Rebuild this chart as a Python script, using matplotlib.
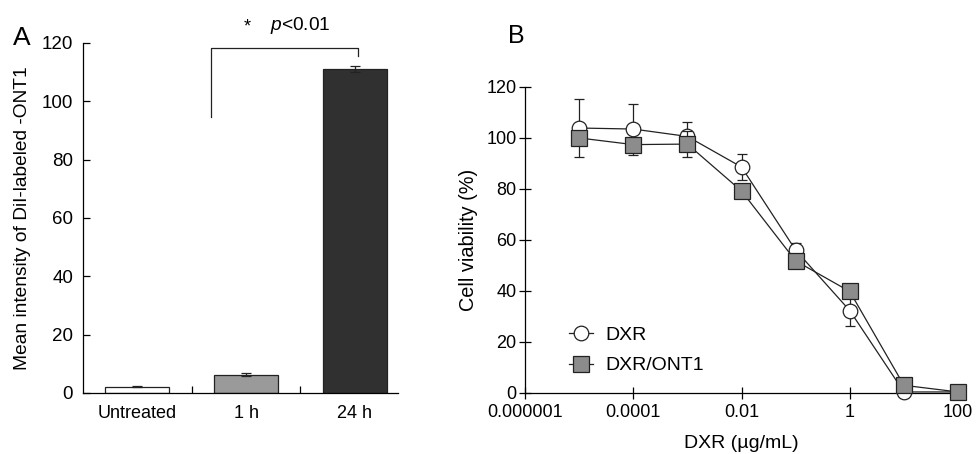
import numpy as np
import matplotlib
matplotlib.use("Agg")
import matplotlib.pyplot as plt
from matplotlib.lines import Line2D

plt.rcParams["font.family"] = ["Liberation Sans", "DejaVu Sans"]
plt.rcParams["mathtext.fontset"] = "custom"
plt.rcParams["mathtext.rm"] = "Liberation Sans"
plt.rcParams["mathtext.it"] = "Liberation Sans:italic"

# panel A data
groups = ["Untreated", "1 h", "24 h"]
intensity = [2.2, 6.3, 111.0]
intensity_err = [0.3, 0.5, 1.1]
bar_colors = ["white", "#9a9a9a", "#303030"]

# panel B data
dose = [1e-5, 1e-4, 1e-3, 1e-2, 1e-1, 1, 10, 100]
dxr = [103.8, 103.4, 100.5, 88.5, 55.9, 32.2, 0.3, 0.3]
dxr_err = [11.5, 10.0, 5.7, 5.0, 3.0, 6.0, 0.3, 0.3]
dxr_ont1 = [99.9, 97.3, 97.5, 79.1, 51.7, 39.7, 2.9, 0.3]
dxr_ont1_err = [2.0, 2.0, 5.0, 2.0, 2.0, 2.0, 0.3, 0.3]

fs = 13
ink = "#222222"
fig = plt.figure(figsize=(9.76, 4.54), dpi=100)

# ---- panel A ----
axA = fig.add_axes([0.085, 0.1344, 0.323, 0.7709])
x = np.arange(len(groups))
axA.bar(x, intensity, width=0.59, color=bar_colors, edgecolor=ink, linewidth=0.9,
        yerr=intensity_err, error_kw=dict(ecolor=ink, elinewidth=0.9, capsize=3.5, capthick=0.9))
axA.set_xlim(-0.5, 2.4)
axA.set_ylim(0, 120)
axA.set_yticks(range(0, 121, 20))
axA.set_xticks(x)
axA.set_xticklabels(groups)
axA.set_xticks([0.5, 1.5], minor=True)
axA.tick_params(axis="x", which="major", length=0, pad=9, labelsize=fs)
axA.tick_params(axis="x", which="minor", direction="in", length=5, width=0.9)
axA.tick_params(axis="y", direction="in", length=5, width=0.9, labelsize=13.5, pad=7)
for s in ["top", "right"]:
    axA.spines[s].set_visible(False)
for s in ["left", "bottom"]:
    axA.spines[s].set_linewidth(0.9)
axA.set_ylabel("Mean intensity of DiI-labeled -ONT1", fontsize=13.8, labelpad=8)

# significance bracket
axA.plot([0.68, 0.68, 2.03, 2.03], [94.6, 118.3, 118.3, 115.5], color=ink,
         linewidth=0.9, clip_on=False)
axA.text(1.01, 125.5, "*", fontsize=fs, ha="center", va="center", clip_on=False)
axA.text(1.5, 126, "$p$<0.01", fontsize=13.8, ha="center", va="center", clip_on=False)
fig.text(0.013, 0.917, "A", fontsize=19, va="center")

# ---- panel B ----
axB = fig.add_axes([0.5379, 0.135, 0.4437, 0.674])
axB.errorbar(dose, dxr, yerr=dxr_err, color=ink, linewidth=0.9, marker="o",
             markersize=10.5, markerfacecolor="white", markeredgecolor=ink,
             markeredgewidth=0.9, capsize=3.5, elinewidth=0.9, capthick=0.9,
             zorder=3, clip_on=False)
axB.errorbar(dose, dxr_ont1, yerr=dxr_ont1_err, color=ink, linewidth=0.9, marker="s",
             markersize=11, markerfacecolor="#8c8c8c", markeredgecolor=ink,
             markeredgewidth=0.9, capsize=3.5, elinewidth=0.9, capthick=0.9,
             zorder=4, clip_on=False)
axB.set_xscale("log")
axB.set_xlim(1e-6, 100)
axB.set_ylim(0, 120)
axB.set_yticks(range(0, 121, 20))
axB.set_xticks([1e-6, 1e-4, 1e-2, 1, 100])
axB.set_xticklabels(["0.000001", "0.0001", "0.01", "1", "100"])
axB.xaxis.set_minor_locator(matplotlib.ticker.NullLocator())
axB.tick_params(direction="inout", length=8, width=0.9, labelsize=fs)
axB.tick_params(axis="x", pad=4)
axB.tick_params(axis="y", pad=2)
for s in ["top", "right"]:
    axB.spines[s].set_visible(False)
for s in ["left", "bottom"]:
    axB.spines[s].set_linewidth(0.9)
axB.set_ylabel("Cell viability (%)", fontsize=14.3, labelpad=6)
axB.set_xlabel("DXR (\u00b5g/mL)", fontsize=14, labelpad=10)

handles = [
    Line2D([], [], color=ink, linewidth=0.9, marker="o", markersize=10.5,
           markerfacecolor="white", markeredgecolor=ink, markeredgewidth=0.9),
    Line2D([], [], color=ink, linewidth=0.9, marker="s", markersize=11,
           markerfacecolor="#8c8c8c", markeredgecolor=ink, markeredgewidth=0.9),
]
axB.legend(handles, ["DXR", "DXR/ONT1"], loc="lower left", bbox_to_anchor=(0.1016, 0.06),
           frameon=False, fontsize=14, handlelength=1.25, handletextpad=0.6,
           labelspacing=0.65, borderpad=0, borderaxespad=0)
fig.text(0.52, 0.921, "B", fontsize=18, va="center")

fig.savefig("out.png", dpi=100)
